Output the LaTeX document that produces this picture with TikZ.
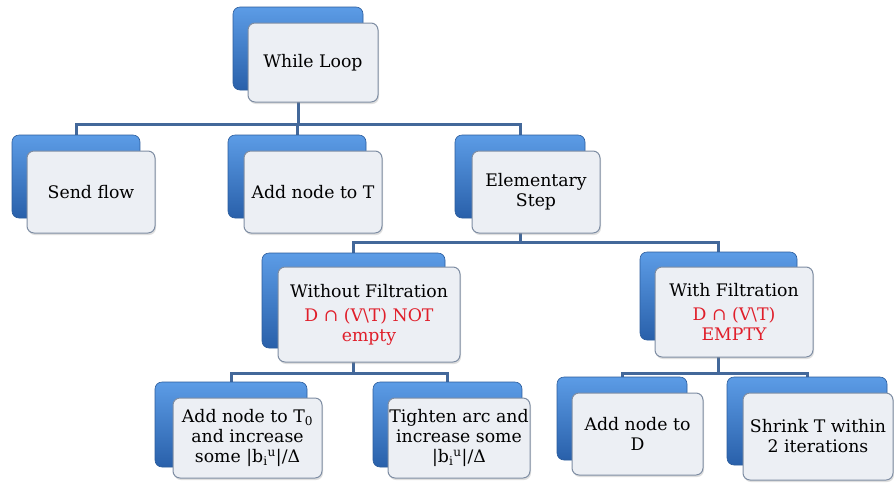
\documentclass[tikz,border=0pt]{standalone}
\usepackage{fontspec}
\setmainfont{DejaVu Serif}
\usetikzlibrary{shadows}
\definecolor{conncol}{HTML}{43689A}
\definecolor{bluetop}{HTML}{5C9CE6}
\definecolor{bluemid}{HTML}{3A7BCF}
\definecolor{bluebot}{HTML}{2960AA}
\definecolor{blueedge}{HTML}{2B5C9C}
\definecolor{panelfill}{HTML}{ECEFF4}
\definecolor{paneledge}{HTML}{7E8DA3}
\definecolor{redtxt}{HTML}{E01E2A}
\pgfdeclarelayer{bg}
\pgfsetlayers{bg,main}
\newcommand\bluerect[5]{%
  \pgfmathsetmacro\cx{(#2+#4)/2}\pgfmathsetmacro\cy{(#3+#5)/2}%
  \pgfmathsetmacro\ww{#4-#2}\pgfmathsetmacro\hh{#5-#3}%
  \node[bluebox,minimum width=\ww pt,minimum height=\hh pt] (#1) at (\cx,\cy) {};}
\newcommand\panelrect[6]{%
  \pgfmathsetmacro\cx{(#2+#4)/2}\pgfmathsetmacro\cy{(#3+#5)/2}%
  \pgfmathsetmacro\ww{#4-#2}\pgfmathsetmacro\hh{#5-#3}%
  \node[panel,minimum width=\ww pt,minimum height=\hh pt] (#1) at (\cx,\cy) {#6};}
\tikzset{
  bluebox/.style={draw=blueedge, line width=0.6pt, rounded corners=7pt,
    top color=bluetop, middle color=bluemid, bottom color=bluebot, inner sep=0pt},
  panel/.style={draw=paneledge, line width=1pt, rounded corners=7pt, fill=panelfill,
    drop shadow={opacity=0.25, shadow xshift=1pt, shadow yshift=-2pt},
    align=center, inner sep=0pt, font=\fontsize{17.3}{20}\selectfont},
  conn/.style={draw=conncol, line width=3pt, line cap=rect}
}
\newcommand\rd[1]{\textcolor{redtxt}{#1}}
\begin{document}
\begin{tikzpicture}[x=1pt,y=-1pt]
\begin{pgfonlayer}{bg}
\fill[white] (0,0) rectangle (894,483);
\end{pgfonlayer}
\useasboundingbox (0,0) rectangle (894,483);
% level 1
\bluerect{whileB}{233}{7}{363}{90}
\panelrect{whileW}{248}{23}{378}{102}{While Loop}
% level 2
\bluerect{sendB}{12}{135}{140}{218}
\panelrect{sendW}{27}{151}{155}{233}{Send flow}
\bluerect{addtB}{228}{135}{366}{218}
\panelrect{addtW}{244}{151}{382}{233}{Add node to T}
\bluerect{elemB}{455}{135}{585}{218}
\panelrect{elemW}{472}{151}{600}{233}{Elementary\\Step}
% level 3
\bluerect{wofB}{262}{253}{445}{348}
\panelrect{wofW}{278}{267}{460}{362}{Without Filtration\\[4pt]\rd{D ∩ (V\textbackslash T) NOT}\\\rd{empty}}
\bluerect{wfB}{640}{252}{797}{340}
\panelrect{wfW}{655}{267}{813}{357}{With Filtration\\[4pt]\rd{D ∩ (V\textbackslash T)}\\\rd{EMPTY}}
% level 4
\bluerect{at0B}{155}{382}{307}{467}
\panelrect{at0W}{173}{398}{322}{478}{Add node to T\textsubscript{0}\\and increase\\some |b\textsubscript{i}\textsuperscript{u}|/Δ}
\bluerect{tiB}{373}{382}{522}{467}
\panelrect{tiW}{388}{398}{530}{478}{Tighten arc and\\increase some\\|b\textsubscript{i}\textsuperscript{u}|/Δ}
\bluerect{adB}{557}{377}{687}{460}
\panelrect{adW}{572}{393}{703}{475}{Add node to\\D}
\bluerect{shB}{727}{377}{887}{465}
\panelrect{shW}{743}{393}{893}{480}{Shrink T within\\2 iterations}
% connectors
\coordinate (bus1) at (0,124);
\coordinate (bus2) at (0,242);
\coordinate (bus3) at (0,373);
\begin{pgfonlayer}{bg}
\draw[conn] (whileB.center) -- (whileB.center |- bus1);
\draw[conn] (sendB.north |- bus1) -- (elemB.north |- bus1);
\draw[conn] (sendB.north |- bus1) -- (sendB.north);
\draw[conn] (addtB.north |- bus1) -- (addtB.north);
\draw[conn] (elemB.north |- bus1) -- (elemB.north);
\draw[conn] (elemB.center) -- (elemB.center |- bus2);
\draw[conn] (wofB.north |- bus2) -- (wfB.north |- bus2);
\draw[conn] (wofB.north |- bus2) -- (wofB.north);
\draw[conn] (wfB.north |- bus2) -- (wfB.north);
\draw[conn] (wofB.center) -- (wofB.center |- bus3);
\draw[conn] (at0B.north |- bus3) -- (tiB.north |- bus3);
\draw[conn] (at0B.north |- bus3) -- (at0B.north);
\draw[conn] (tiB.north |- bus3) -- (tiB.north);
\draw[conn] (wfB.center) -- (wfB.center |- bus3);
\draw[conn] (adB.north |- bus3) -- (shB.north |- bus3);
\draw[conn] (adB.north |- bus3) -- (adB.north);
\draw[conn] (shB.north |- bus3) -- (shB.north);
\end{pgfonlayer}
\end{tikzpicture}
\end{document}
